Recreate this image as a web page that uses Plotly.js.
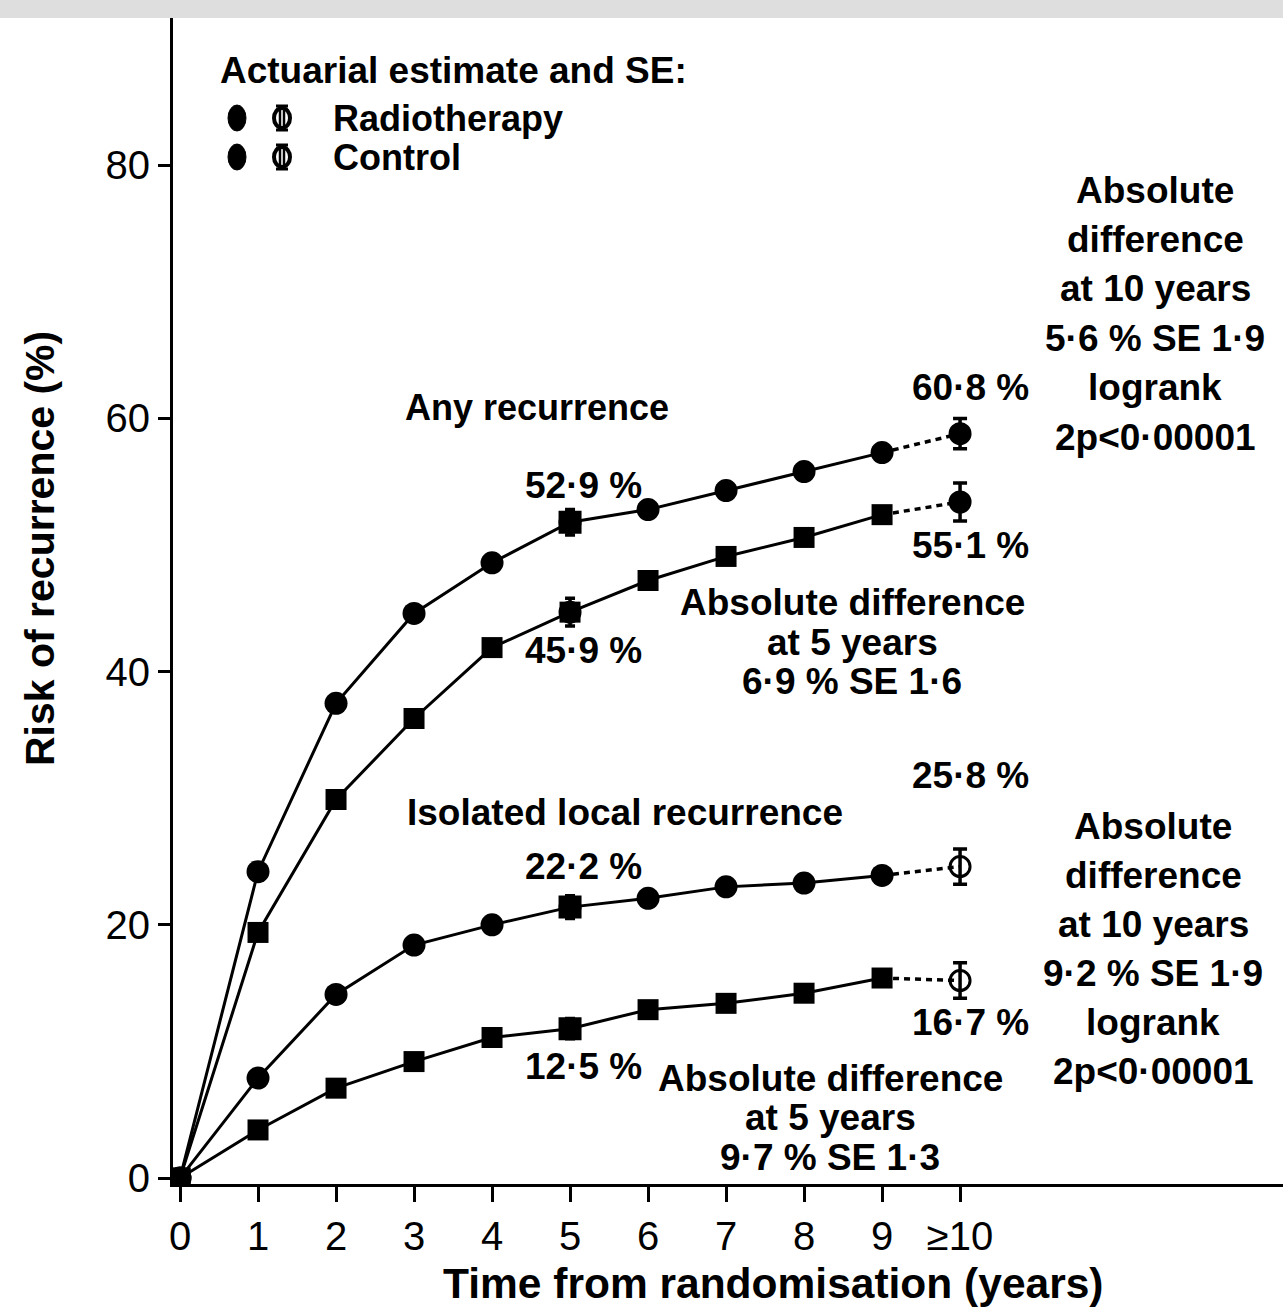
<!DOCTYPE html>
<html>
<head>
<meta charset="utf-8">
<script src="https://cdn.plot.ly/plotly-3.0.1.min.js"></script>
<style>
  html, body { margin: 0; padding: 0; background: #dedede; }
  #plot { position: absolute; left: 0; top: 18px; width: 1283px; height: 1289px; background: #fff; }
</style>
</head>
<body>
<div id="plot"></div>
<script>
// ---- data ----
const years = [0, 1, 2, 3, 4, 5, 6, 7, 8, 9];
const tenYears = 10;
const tickVals = [0, 1, 2, 3, 4, 5, 6, 7, 8, 9, 10];
const tickText = ['0', '1', '2', '3', '4', '5', '6', '7', '8', '9', '\u2265' + '10'];

const anyControl   = [0, 24.2, 37.5, 44.6, 48.6, 51.8, 52.8, 54.3, 55.8, 57.3];
const anyRadio     = [0, 19.4, 29.9, 36.3, 41.9, 44.7, 47.2, 49.1, 50.6, 52.4];
const localControl = [0, 7.9, 14.5, 18.4, 20.0, 21.4, 22.1, 23.0, 23.3, 23.9];
const localRadio   = [0, 3.8, 7.1, 9.2, 11.1, 11.8, 13.3, 13.8, 14.6, 15.8];

const anyControl10 = 58.8,  anyControl10SE = 1.2;
const anyRadio10 = 53.4,    anyRadio10SE = 1.5;
const localControl10 = 24.6, localControl10SE = 1.4;
const localRadio10 = 15.6,  localRadio10SE = 1.4;

const fiveYearSE = { anyControl: 1.0, anyRadio: 1.1, localControl: 0.9, localRadio: 0.8 };

// ---- helpers ----
const INK = '#000';
const FONT = 'Liberation Sans, Arial, sans-serif';

function curve(y, symbol) {
  return {
    x: years, y: y, type: 'scatter', mode: 'lines+markers', showlegend: false,
    line: { color: INK, width: 3 },
    marker: { color: INK, symbol: symbol, size: symbol === 'square' ? 21 : 23 },
    hoverinfo: 'x+y'
  };
}
function dotted(y9, y10) {
  return {
    x: [years[9], tenYears], y: [y9, y10], type: 'scatter', mode: 'lines', showlegend: false,
    line: { color: INK, width: 3.5, dash: '6px,5px' }, hoverinfo: 'skip'
  };
}
function sePoint(xv, yv, se, symbol, capw) {
  return {
    x: [xv], y: [yv], type: 'scatter', mode: 'markers', showlegend: false,
    marker: { color: INK, symbol: symbol, size: 20, line: { color: INK, width: 3 } },
    error_y: { type: 'data', array: [se], visible: true, color: INK, thickness: 3.5, width: capw }
  };
}

const traces = [
  curve(anyControl, 'circle'),
  curve(anyRadio, 'square'),
  curve(localControl, 'circle'),
  curve(localRadio, 'square'),
  dotted(anyControl[9], anyControl10),
  dotted(anyRadio[9], anyRadio10),
  dotted(localControl[9], localControl10),
  dotted(localRadio[9], localRadio10),
  sePoint(years[5], anyControl[5], fiveYearSE.anyControl, 'square', 5),
  sePoint(years[5], anyRadio[5], fiveYearSE.anyRadio, 'circle', 5),
  sePoint(years[5], localControl[5], fiveYearSE.localControl, 'square', 5),
  sePoint(years[5], localRadio[5], fiveYearSE.localRadio, 'square', 5),
  sePoint(tenYears, anyControl10, anyControl10SE, 'circle', 7),
  sePoint(tenYears, anyRadio10, anyRadio10SE, 'circle', 7),
  sePoint(tenYears, localControl10, localControl10SE, 'circle-open', 7),
  sePoint(tenYears, localRadio10, localRadio10SE, 'circle-open', 7)
];

// page pixel -> paper coordinates (plot area spans x 173..1283, y 18..1184 on the page)
const PX = px => (px - 173) / 1110;
const PY = py => (1184 - py) / 1166;

const annotations = [];
function txt(text, px, py, size, anchor) {
  annotations.push({
    text: '<b>' + text + '</b>',
    x: PX(px), y: PY(py), xref: 'paper', yref: 'paper',
    xanchor: anchor || 'center', yanchor: 'middle', showarrow: false,
    font: { family: FONT, size: size || 37, color: INK }
  });
}
function block(lines, px, py0, step, size) {
  lines.forEach((l, i) => txt(l, px, py0 + i * step, size));
}

// legend
txt('Actuarial estimate and SE:', 218, 70, 37, 'left');
txt('Radiotherapy', 331, 118, 36, 'left');
txt('Control', 331, 157, 36, 'left');

// any recurrence
txt('Any recurrence', 537, 408, 36);
txt('52\u00b79 %', 583, 485);
txt('45\u00b79 %', 583, 650);
txt('60\u00b78 %', 970, 387);
txt('55\u00b71 %', 970, 545);
block(['Absolute difference', 'at 5 years', '6\u00b79 % SE 1\u00b76'], 852, 602, 40);
block(['Absolute', 'difference', 'at 10 years', '5\u00b76 % SE 1\u00b79', 'logrank', '2p<0\u00b700001'], 1155, 190, 49.4);

// isolated local recurrence
txt('25\u00b78 %', 970, 775);
txt('Isolated local recurrence', 625, 812, 37);
txt('22\u00b72 %', 583, 866);
block(['Absolute', 'difference', 'at 10 years', '9\u00b72 % SE 1\u00b79', 'logrank', '2p<0\u00b700001'], 1153, 827, 48.8);
txt('16\u00b77 %', 970, 1022);
txt('12\u00b75 %', 583, 1066);
block(['Absolute difference', 'at 5 years', '9\u00b77 % SE 1\u00b73'], 830, 1078, 39.5);

// axis titles (placed to match the original)
annotations.push({
  text: '<b>Time from randomisation (years)</b>', x: PX(773), y: PY(1283), xref: 'paper', yref: 'paper',
  xanchor: 'center', yanchor: 'middle', showarrow: false,
  font: { family: FONT, size: 42.5, color: INK }
});
annotations.push({
  text: '<b>Risk of recurrence (%)</b>', x: PX(40), y: PY(549), xref: 'paper', yref: 'paper',
  xanchor: 'center', yanchor: 'middle', showarrow: false, textangle: -90,
  font: { family: FONT, size: 41, color: INK }
});

// legend symbols (decoration, in paper coords)
const shapes = [];
function filledSym(px, py) {
  shapes.push({ type: 'circle', xref: 'paper', yref: 'paper', x0: PX(px - 9), x1: PX(px + 9), y0: PY(py + 13), y1: PY(py - 13),
    fillcolor: INK, line: { color: INK, width: 1 } });
}
function openSym(px, py) {
  shapes.push({ type: 'circle', xref: 'paper', yref: 'paper', x0: PX(px - 8), x1: PX(px + 8), y0: PY(py + 10), y1: PY(py - 10),
    fillcolor: 'rgba(0,0,0,0)', line: { color: INK, width: 4 } });
  shapes.push({ type: 'line', xref: 'paper', yref: 'paper', x0: PX(px - 2), x1: PX(px - 2), y0: PY(py + 8), y1: PY(py - 8),
    line: { color: INK, width: 2.5 } });
  shapes.push({ type: 'line', xref: 'paper', yref: 'paper', x0: PX(px + 2), x1: PX(px + 2), y0: PY(py + 8), y1: PY(py - 8),
    line: { color: INK, width: 2.5 } });
  shapes.push({ type: 'line', xref: 'paper', yref: 'paper', x0: PX(px - 6), x1: PX(px + 6), y0: PY(py - 12), y1: PY(py - 12),
    line: { color: INK, width: 3 } });
  shapes.push({ type: 'line', xref: 'paper', yref: 'paper', x0: PX(px - 6), x1: PX(px + 6), y0: PY(py + 12), y1: PY(py + 12),
    line: { color: INK, width: 3 } });
}
filledSym(237, 118); openSym(282, 118);
filledSym(237, 157); openSym(282, 157);

const layout = {
  width: 1283, height: 1289,
  margin: { l: 173, r: 0, t: 0, b: 123, pad: 0 },
  paper_bgcolor: '#fff', plot_bgcolor: '#fff',
  showlegend: false,
  font: { family: FONT, color: INK },
  xaxis: {
    range: [-0.09, 14.14], showgrid: false, zeroline: false,
    showline: true, linecolor: INK, linewidth: 3,
    ticks: 'outside', ticklen: 15, tickwidth: 3, tickcolor: INK,
    tickmode: 'array', tickvals: tickVals, ticktext: tickText,
    tickfont: { family: FONT, size: 40, color: INK },
    ticklabelstandoff: 0,
    title: { text: '' }
  },
  yaxis: {
    range: [-0.47, 91.63], showgrid: false, zeroline: false,
    showline: true, linecolor: INK, linewidth: 3,
    ticks: 'outside', ticklen: 12, tickwidth: 3, tickcolor: INK,
    tickmode: 'array', tickvals: [0, 20, 40, 60, 80],
    tickfont: { family: FONT, size: 40, color: INK },
    title: { text: '' }
  },
  annotations: annotations,
  shapes: shapes
};

Plotly.newPlot('plot', traces, layout, { displayModeBar: false, staticPlot: true });
</script>
</body>
</html>
